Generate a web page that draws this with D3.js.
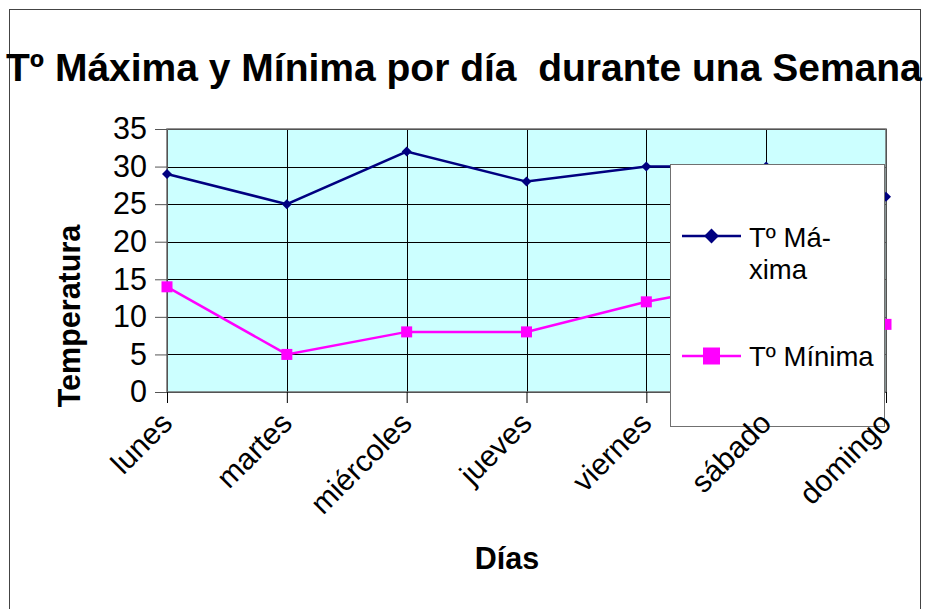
<!DOCTYPE html>
<html>
<head>
<meta charset="utf-8">
<script src="https://cdn.jsdelivr.net/npm/d3@7"></script>
<style>
  body { margin: 0; background: #fff; }
  svg { display: block; font-family: "Liberation Sans", Arial, sans-serif; }
</style>
</head>
<body>
<div id="chart"></div>
<script>
// data
var days = ["lunes", "martes", "miércoles", "jueves", "viernes", "sábado", "domingo"];
var tMax = [29, 25, 32, 28, 30, 30, 26];
var tMin = [14, 5, 8, 8, 12, 15, 9];
var yTicks = [0, 5, 10, 15, 20, 25, 30, 35];
var seriesNames = ["Tº Máxima", "Tº Mínima"];

var W = 926, H = 609;
var plot = { left: 167, right: 886, top: 129, bottom: 392 };

var svg = d3.select("#chart").append("svg")
    .attr("width", W)
    .attr("height", H);

var x = d3.scalePoint().domain(days).range([plot.left, plot.right]);
var y = d3.scaleLinear().domain([0, 35]).range([plot.bottom, plot.top]);

// outer frame
svg.append("rect")
    .attr("x", 9.5).attr("y", 9.5)
    .attr("width", 911).attr("height", 640)
    .attr("fill", "#fff")
    .attr("stroke", "#444");

// title
svg.append("text")
    .attr("x", 6)
    .attr("y", 81)
    .attr("font-size", 39)
    .attr("font-weight", "bold")
    .attr("fill", "#000")
    .style("white-space", "pre")
    .text("Tº Máxima y Mínima por día  durante una Semana");

// plot background
svg.append("rect")
    .attr("x", plot.left).attr("y", plot.top)
    .attr("width", plot.right - plot.left)
    .attr("height", plot.bottom - plot.top)
    .attr("fill", "#ccffff");

// grid
svg.append("g").selectAll("line")
    .data(yTicks)
    .enter().append("line")
    .attr("x1", plot.left).attr("x2", plot.right)
    .attr("y1", function(d) { return Math.round(y(d)) + 0.5; })
    .attr("y2", function(d) { return Math.round(y(d)) + 0.5; })
    .attr("stroke", "#000")
    .attr("stroke-width", 1);

svg.append("g").selectAll("line")
    .data(days)
    .enter().append("line")
    .attr("x1", function(d) { return Math.round(x(d)) + 0.5; })
    .attr("x2", function(d) { return Math.round(x(d)) + 0.5; })
    .attr("y1", plot.top).attr("y2", plot.bottom)
    .attr("stroke", "#000")
    .attr("stroke-width", 1);

svg.append("rect")
    .attr("x", plot.left).attr("y", plot.top)
    .attr("width", plot.right - plot.left)
    .attr("height", plot.bottom - plot.top)
    .attr("fill", "none")
    .attr("stroke", "#707070")
    .attr("stroke-width", 1.5);

// y axis
var yAxis = svg.append("g")
    .attr("transform", "translate(" + plot.left + ",0)")
    .call(d3.axisLeft(y).tickValues(yTicks).tickSize(12).tickPadding(8));
yAxis.select(".domain").remove();
yAxis.selectAll(".tick line").attr("stroke", "#555");
yAxis.selectAll("text")
    .attr("font-family", "Liberation Sans, Arial, sans-serif")
    .attr("font-size", 30.5)
    .attr("fill", "#000");

// x axis ticks
var xAxis = svg.append("g")
    .attr("transform", "translate(0," + plot.bottom + ")")
    .call(d3.axisBottom(x).tickSize(11).tickFormat(""));
xAxis.select(".domain").remove();
xAxis.selectAll(".tick line").attr("stroke", "#000");

// lines and markers
var line = d3.line()
    .x(function(d, i) { return x(days[i]); })
    .y(function(d) { return y(d); });

svg.append("path")
    .datum(tMax)
    .attr("d", line)
    .attr("fill", "none")
    .attr("stroke", "#000080")
    .attr("stroke-width", 2.5);

svg.append("path")
    .datum(tMin)
    .attr("d", line)
    .attr("fill", "none")
    .attr("stroke", "#ff00ff")
    .attr("stroke-width", 2.5);

svg.append("g").selectAll("path")
    .data(tMax)
    .enter().append("path")
    .attr("d", d3.symbol().type(d3.symbolSquare).size(50))
    .attr("transform", function(d, i) { return "translate(" + x(days[i]) + "," + y(d) + ") rotate(45)"; })
    .attr("fill", "#000080");

svg.append("g").selectAll("rect")
    .data(tMin)
    .enter().append("rect")
    .attr("x", function(d, i) { return x(days[i]) - 5.5; })
    .attr("y", function(d) { return y(d) - 5.5; })
    .attr("width", 11).attr("height", 11)
    .attr("fill", "#ff00ff");

// legend
var legend = svg.append("g");
legend.append("rect")
    .attr("x", 670.5).attr("y", 164.5)
    .attr("width", 214).attr("height", 262)
    .attr("fill", "#fff")
    .attr("stroke", "#707070");

legend.append("line")
    .attr("x1", 682).attr("x2", 741)
    .attr("y1", 236).attr("y2", 236)
    .attr("stroke", "#000080").attr("stroke-width", 2.5);
legend.append("path")
    .attr("transform", "translate(711.5,236) rotate(45)")
    .attr("d", d3.symbol().type(d3.symbolSquare).size(110))
    .attr("fill", "#000080");
legend.append("text")
    .attr("x", 749).attr("y", 247)
    .attr("font-size", 27.5)
    .attr("fill", "#000")
    .text("Tº Má-");
legend.append("text")
    .attr("x", 749).attr("y", 279)
    .attr("font-size", 27.5)
    .attr("fill", "#000")
    .text("xima");

legend.append("line")
    .attr("x1", 682).attr("x2", 741)
    .attr("y1", 356).attr("y2", 356)
    .attr("stroke", "#ff00ff").attr("stroke-width", 2.5);
legend.append("rect")
    .attr("x", 703).attr("y", 347.5)
    .attr("width", 17).attr("height", 17)
    .attr("fill", "#ff00ff");
legend.append("text")
    .attr("x", 749).attr("y", 366)
    .attr("font-size", 27.5)
    .attr("fill", "#000")
    .text(seriesNames[1]);

// x labels (rotated)
svg.append("g").selectAll("text")
    .data(days)
    .enter().append("text")
    .attr("transform", function(d) { return "translate(" + (x(d) + 7) + "," + (plot.bottom + 33) + ") rotate(-45)"; })
    .attr("text-anchor", "end")
    .attr("font-size", 30)
    .attr("fill", "#000")
    .text(function(d) { return d; });

// axis titles
svg.append("text")
    .attr("transform", "translate(80,316) rotate(-90)")
    .attr("text-anchor", "middle")
    .attr("font-size", 30.5)
    .attr("font-weight", "bold")
    .attr("fill", "#000")
    .text("Temperatura");

svg.append("text")
    .attr("x", 507)
    .attr("y", 569)
    .attr("text-anchor", "middle")
    .attr("font-size", 30.5)
    .attr("font-weight", "bold")
    .attr("fill", "#000")
    .text("Días");
</script>
</body>
</html>
